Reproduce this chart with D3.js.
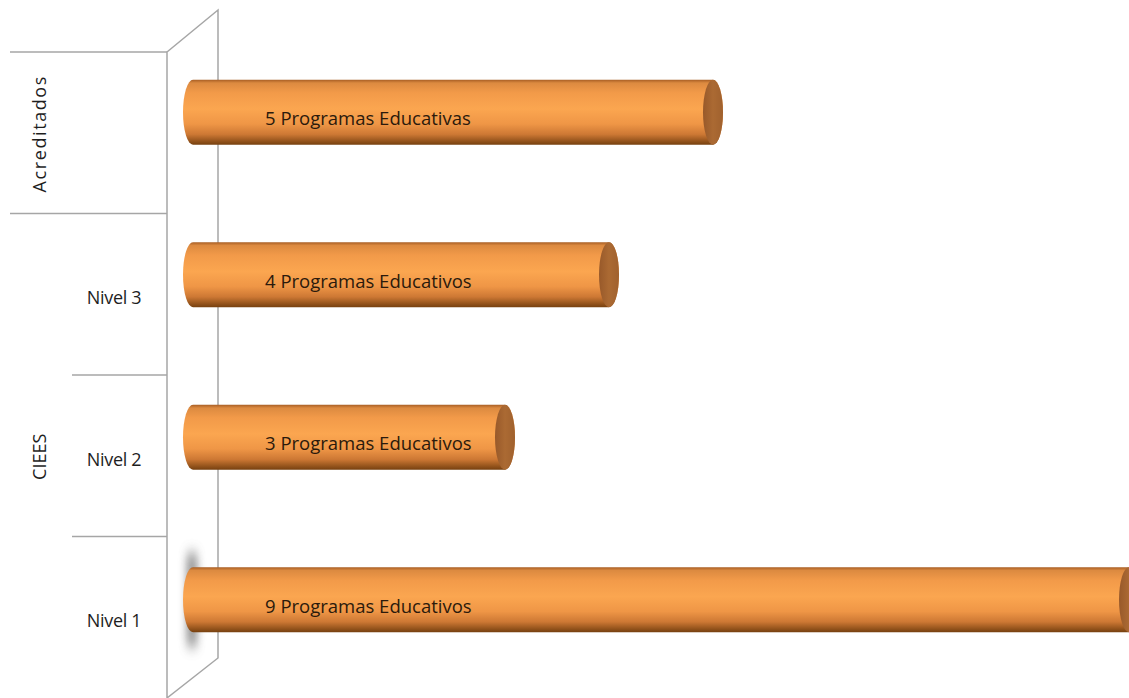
<!DOCTYPE html>
<html>
<head>
<meta charset="utf-8">
<script src="https://cdn.jsdelivr.net/npm/d3@7"></script>
<style>
  html, body { margin: 0; padding: 0; background: #ffffff; }
  svg { display: block; }
</style>
</head>
<body>
<svg id="chart" width="1129" height="698"></svg>
<script>
// ---- data ----
const categories = ["Acreditados", "Nivel 3", "Nivel 2", "Nivel 1"];
const groups = [
  { name: "Acreditados", members: ["Acreditados"] },
  { name: "CIEES", members: ["Nivel 3", "Nivel 2", "Nivel 1"] }
];
const values = [5, 4, 3, 9];
const barLabels = ["5 Programas Educativas", "4 Programas Educativos", "3 Programas Educativos", "9 Programas Educativos"];

const svg = d3.select("#chart");
const font = "'Open Sans', 'Noto Sans', sans-serif";

// scales
const x = d3.scaleLinear().domain([0, 9]).range([193, 1129]);
const yBar = d3.scalePoint().domain(categories).range([31, 681]).padding(0.5);
const yLab = d3.scaleBand().domain(categories).range([52, 698]);
const barH = 65;
const capRx = 10;

const defs = svg.append("defs");
const grad = defs.append("linearGradient").attr("id", "cyl").attr("x1", 0).attr("y1", 0).attr("x2", 0).attr("y2", 1);
[[0, "#a85e24"], [0.05, "#dc8a40"], [0.2, "#f29a49"], [0.45, "#fba650"], [0.68, "#ef9646"], [0.84, "#cd7834"], [1, "#76400f"]]
  .forEach(([o, c]) => grad.append("stop").attr("offset", o).attr("stop-color", c));
const capGrad = defs.append("linearGradient").attr("id", "cap").attr("x1", 0).attr("y1", 0).attr("x2", 1).attr("y2", 0);
[[0, "#98592a"], [0.5, "#ab6a33"], [1, "#a0612e"]]
  .forEach(([o, c]) => capGrad.append("stop").attr("offset", o).attr("stop-color", c));
const blur = defs.append("filter").attr("id", "blur").attr("x", "-100%").attr("y", "-50%").attr("width", "300%").attr("height", "200%");
blur.append("feGaussianBlur").attr("stdDeviation", "4 7");

// ---- wall (3D axis plane) ----
const wallFrontX = 167, wallBackX = 218;
const wallTop = 52, wallBackTop = 10, wallBackBottom = 658, wallBottom = 698;
svg.append("path")
  .attr("d", `M${wallFrontX},${wallTop} L${wallBackX},${wallBackTop} L${wallBackX},${wallBackBottom} L${wallFrontX},${wallBottom} Z`)
  .attr("fill", "#ffffff").attr("stroke", "#a6a6a6").attr("stroke-width", 1.5);

// shadow behind largest bar
const maxCat = categories[values.indexOf(d3.max(values))];
svg.append("rect")
  .attr("x", x(0) - 6).attr("y", yBar(maxCat) - barH / 2 - 14)
  .attr("width", 10).attr("height", barH + 28)
  .attr("fill", "#666").attr("opacity", 0.75).attr("filter", "url(#blur)");

// ---- category axis lines ----
const lineColor = "#a6a6a6";
categories.forEach(c => {
  const yy = yLab(c);
  const isGroupStart = groups.some(g => g.members[0] === c);
  svg.append("line")
    .attr("x1", isGroupStart ? 10 : 72).attr("x2", wallFrontX)
    .attr("y1", yy).attr("y2", yy)
    .attr("stroke", lineColor).attr("stroke-width", 1.5);
});

// category labels
const subCats = categories.filter(c => !groups.some(g => g.name === c));
svg.selectAll("text.cat").data(subCats).enter().append("text")
  .attr("class", "cat")
  .attr("x", 114).attr("y", d => yLab(d) + yLab.bandwidth() / 2 + 10)
  .attr("text-anchor", "middle")
  .attr("font-family", font).attr("font-size", 18).attr("fill", "#1e1e1e")
  .attr("letter-spacing", -0.3)
  .text(d => d);

// group labels (rotated)
groups.forEach(g => {
  const y0 = yLab(g.members[0]);
  const y1 = yLab(g.members[g.members.length - 1]) + yLab.bandwidth();
  const cy = (y0 + y1) / 2;
  svg.append("text")
    .attr("transform", `translate(46,${cy + 1}) rotate(-90)`)
    .attr("text-anchor", "middle")
    .attr("font-family", font).attr("font-size", 18).attr("fill", "#1e1e1e")
    .attr("letter-spacing", g.name === "Acreditados" ? 1.6 : 0)
    .text(g.name);
});

// ---- cylinders ----
const bars = svg.selectAll("g.bar").data(categories.map((c, i) => ({ c, v: values[i], label: barLabels[i] })))
  .enter().append("g").attr("class", "bar");

bars.append("path")
  .attr("d", d => {
    const y0 = yBar(d.c) - barH / 2, y1 = yBar(d.c) + barH / 2;
    const x0 = x(0), x1 = x(d.v);
    const r = barH / 2;
    return `M${x1},${y0} L${x0},${y0} A${capRx},${r} 0 0 0 ${x0},${y1} L${x1},${y1} A${capRx},${r} 0 0 0 ${x1},${y0} Z`;
  })
  .attr("fill", "url(#cyl)");

bars.append("ellipse")
  .attr("cx", d => x(d.v)).attr("cy", d => yBar(d.c))
  .attr("rx", capRx).attr("ry", barH / 2)
  .attr("fill", "url(#cap)");

bars.append("text")
  .attr("x", d => x(0) + 72)
  .attr("y", d => yBar(d.c) + 13)
  .attr("font-family", font).attr("font-size", 18.5).attr("fill", "#2b1a0c")
  .text(d => d.label);
</script>
</body>
</html>
